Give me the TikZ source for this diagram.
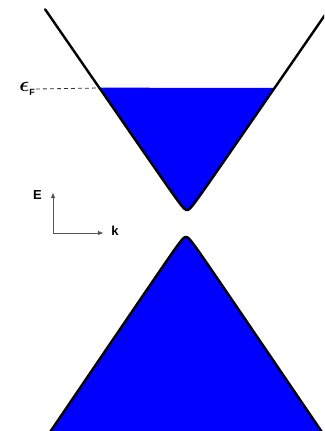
\documentclass[tikz,border=0pt]{standalone}
\usepackage{fontspec}
\setmainfont{Liberation Sans}
\usepackage{amsmath,bm}
\usetikzlibrary{arrows.meta}
\definecolor{bandblue}{RGB}{0,0,255}
\definecolor{axisgray}{RGB}{85,85,85}
\begin{document}
\begin{tikzpicture}[x=1pt,y=-1pt,
  bandline/.style={line width=2.4pt,black,line join=round,line cap=round},
  bandfill/.style={fill=bandblue},
  axisline/.style={line width=0.9pt,axisgray,-{Triangle[length=5pt,width=4pt]}},
  efline/.style={line width=0.8pt,black!80,dash pattern=on 4pt off 3pt},
  lbl/.style={font=\fontsize{13}{13}\selectfont\bfseries,inner sep=0pt}]
\useasboundingbox (0,0) rectangle (324,431);
\clip (0,0) rectangle (324,431);
% upper band filled up to the Fermi level
\fill[bandfill] plot[domain=-3.93:3.93,samples=160,variable=\t]
  ({187+3.45*sinh(\t)},{215-5*cosh(\t)}) -- cycle;
\draw[bandline] plot[domain=-4.41:4.4,samples=200,variable=\t]
  ({187+3.45*sinh(\t)},{215-5*cosh(\t)});
% lower band filled
\fill[bandfill] plot[domain=-4.5:4.5,samples=200,variable=\t]
  ({186+3.4*sinh(\t)},{232+5*cosh(\t)}) -- cycle;
\draw[bandline] plot[domain=-4.5:4.5,samples=200,variable=\t]
  ({186+3.4*sinh(\t)},{232+5*cosh(\t)});
% Fermi level
\coordinate (efcross) at (99,88);
\node[anchor=east,inner sep=0pt] (eflabel) at (35,89)
  {{\fontsize{21}{21}\selectfont$\bm{\epsilon}$}\raisebox{-3.5pt}{\fontsize{9}{9}\selectfont\textbf{F}}};
\draw[efline] (eflabel.east) ++(1,0) coordinate (efstart) -- (efcross);
% axes
\coordinate (origin) at (53,233);
\coordinate (eend) at (53,193);
\coordinate (kend) at (103,233);
\draw[axisline] (origin) -- (eend);
\draw[axisline] (origin) -- (kend);
\node[lbl] (elabel) at (37.5,195) {E};
\node[lbl] (klabel) at (115,231) {k};
\end{tikzpicture}
\end{document}
